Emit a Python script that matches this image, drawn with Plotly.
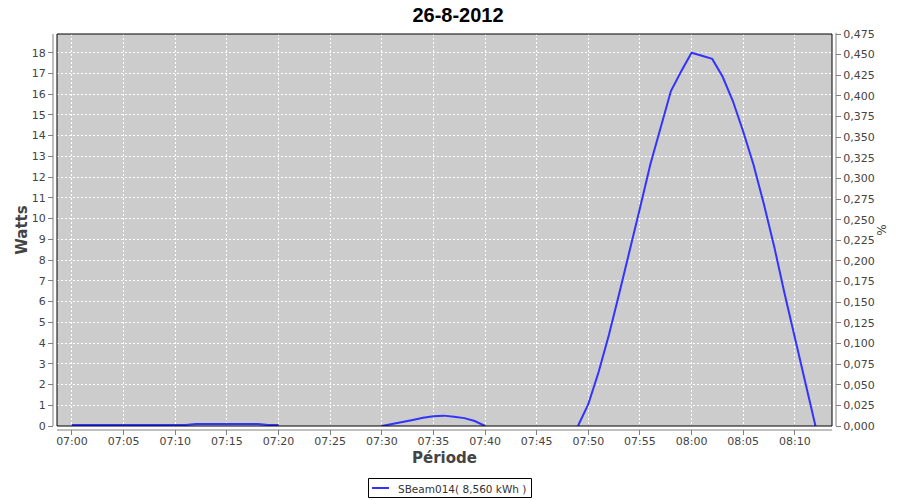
import plotly.graph_objects as go
import pandas as pd

title_text = "26-8-2012"
series_name = "SBeam014( 8,560 kWh )"
start_time = "2012-08-26 07:00"
n_minutes = 73
# Watts per minute from 07:00 to 08:12 (None = no data)
watts = [
    0.05, 0.05, 0.05, 0.05, 0.05, 0.05, 0.05, 0.05, 0.05, 0.05,   # 07:00-07:09
    0.05, 0.05, 0.1, 0.1, 0.1, 0.1, 0.1, 0.1, 0.1, 0.05,          # 07:10-07:19
    0.05, None, None, None, None, None, None, None, None, None,   # 07:20-07:29
    0.0, 0.11, 0.19, 0.29, 0.40, 0.47, 0.50, 0.45, 0.38, 0.24,    # 07:30-07:39
    0.0, None, None, None, None, None, None, None, None, 0.0,     # 07:40-07:49
    1.05, 2.6, 4.4, 6.4, 8.4, 10.5, 12.6, 14.4, 16.15, 17.1,      # 07:50-07:59
    18.0, 17.85, 17.7, 16.85, 15.67, 14.2, 12.6, 10.7, 8.66, 6.4, # 08:00-08:09
    4.3, 2.14, 0.0                                                # 08:10-08:12
]
times = pd.date_range(start_time, periods=n_minutes, freq="min")

W, H = 900, 500
S = 8  # page body offset of the figure inside the window
ml, mt = 57 - S, 34 - S
mr, mb = W - (832 - S), H - (426 - S)
pw = W - ml - mr
ph = H - mt - mb
off = 4
ox = off / pw
oy = off / ph
axis_grey = "#808080"


def px(x):  # window pixel x -> paper x
    return (x - S - ml) / pw


def py(y):  # window pixel y -> paper y
    return 1 - (y - S - mt) / ph


tickfont = dict(family="DejaVu Sans", size=11, color="#444444")
titlefont = dict(family="DejaVu Sans", size=15, color="#444444", weight="bold")

fig = go.Figure()
fig.add_trace(go.Scatter(
    x=times, y=watts, mode="lines", name=series_name, showlegend=False,
    line=dict(color="#3333ff", width=2), connectgaps=False,
))
fig.add_trace(go.Scatter(x=[times[0]], y=[None], yaxis="y2", showlegend=False,
                         hoverinfo="skip"))

shapes = [
    # white gaps between plot border and offset axes
    dict(type="rect", xref="paper", yref="paper", x0=-ox, x1=-0.0005, y0=-oy, y1=1.01,
         line=dict(width=0), fillcolor="white", layer="above"),
    dict(type="rect", xref="paper", yref="paper", x0=1.0005, x1=1 + ox, y0=-oy, y1=1.01,
         line=dict(width=0), fillcolor="white", layer="above"),
    dict(type="rect", xref="paper", yref="paper", x0=-ox, x1=1 + ox, y0=-oy, y1=-0.001,
         line=dict(width=0), fillcolor="white", layer="above"),
    # offset axis lines
    dict(type="line", xref="paper", yref="paper", x0=-ox, x1=-ox, y0=0, y1=1,
         line=dict(color=axis_grey, width=1), layer="above"),
    dict(type="line", xref="paper", yref="paper", x0=1 + ox, x1=1 + ox, y0=0, y1=1.003,
         line=dict(color=axis_grey, width=1), layer="above"),
    dict(type="line", xref="paper", yref="paper", x0=0, x1=1, y0=-oy, y1=-oy,
         line=dict(color=axis_grey, width=1), layer="above"),
    # plot border
    dict(type="rect", xref="paper", yref="paper", x0=0, x1=1, y0=0, y1=1,
         line=dict(color="black", width=1), fillcolor="rgba(0,0,0,0)", layer="above"),
    # legend box and line sample
    dict(type="rect", xref="paper", yref="paper", x0=px(368.5), x1=px(531.5), y0=py(478.5), y1=py(497.5),
         line=dict(color="black", width=1), fillcolor="white", layer="above"),
    dict(type="line", xref="paper", yref="paper", x0=px(372), x1=px(389), y0=py(488), y1=py(488),
         line=dict(color="#3333ff", width=2), layer="above"),
]

annotations = [
    dict(text=series_name, xref="paper", yref="paper", x=px(396), y=py(488.5),
         xanchor="left", yanchor="middle", showarrow=False,
         font=dict(family="DejaVu Sans", size=10.5, color="#333333")),
]

fig.update_layout(
    width=W, height=H,
    margin=dict(l=ml, r=mr, t=mt, b=mb, pad=0, autoexpand=False),
    paper_bgcolor="white", plot_bgcolor="#cccccc",
    separators=",.",
    title=dict(text=title_text, x=0.5, xanchor="center", y=1, yanchor="top",
               font=dict(family="Liberation Sans", size=20, color="black", weight="bold")),
    showlegend=False,
    xaxis=dict(
        domain=[0, 1], automargin=False,
        type="date",
        range=["2012-08-26 06:58:33", "2012-08-26 08:13:36"],
        tick0="2012-08-26 07:00", dtick=300000, tickformat="%H:%M",
        ticks="outside", ticklen=off + 4, tickcolor=axis_grey,
        showline=False, ticklabelstandoff=-3,
        showgrid=True, gridcolor="white", gridwidth=1, griddash="2px,2px",
        zeroline=False, tickfont=tickfont, tickangle=0,
        title=dict(text="Période", font=titlefont, standoff=5),
    ),
    yaxis=dict(
        domain=[0, 1], automargin=False,
        range=[0, 18.9], dtick=1, tick0=0,
        ticks="outside", ticklen=off + 4, tickcolor=axis_grey,
        showline=False,
        showgrid=True, gridcolor="white", gridwidth=1, griddash="2px,2px",
        zeroline=False, tickfont=tickfont,
        title=dict(text="Watts", font=titlefont, standoff=0),
    ),
    yaxis2=dict(
        overlaying="y", side="right", anchor="x", automargin=False,
        range=[0, 0.475], dtick=0.025, tick0=0, tickformat=".3f",
        ticks="outside", ticklen=off + 4, tickcolor=axis_grey,
        showline=False,
        showgrid=False, zeroline=False, tickfont=tickfont,
        title=dict(text="%", font=dict(family="DejaVu Sans", size=12, color="#444444"), standoff=3),
    ),
    shapes=shapes,
    annotations=annotations,
)

fig.write_html("out.html")
